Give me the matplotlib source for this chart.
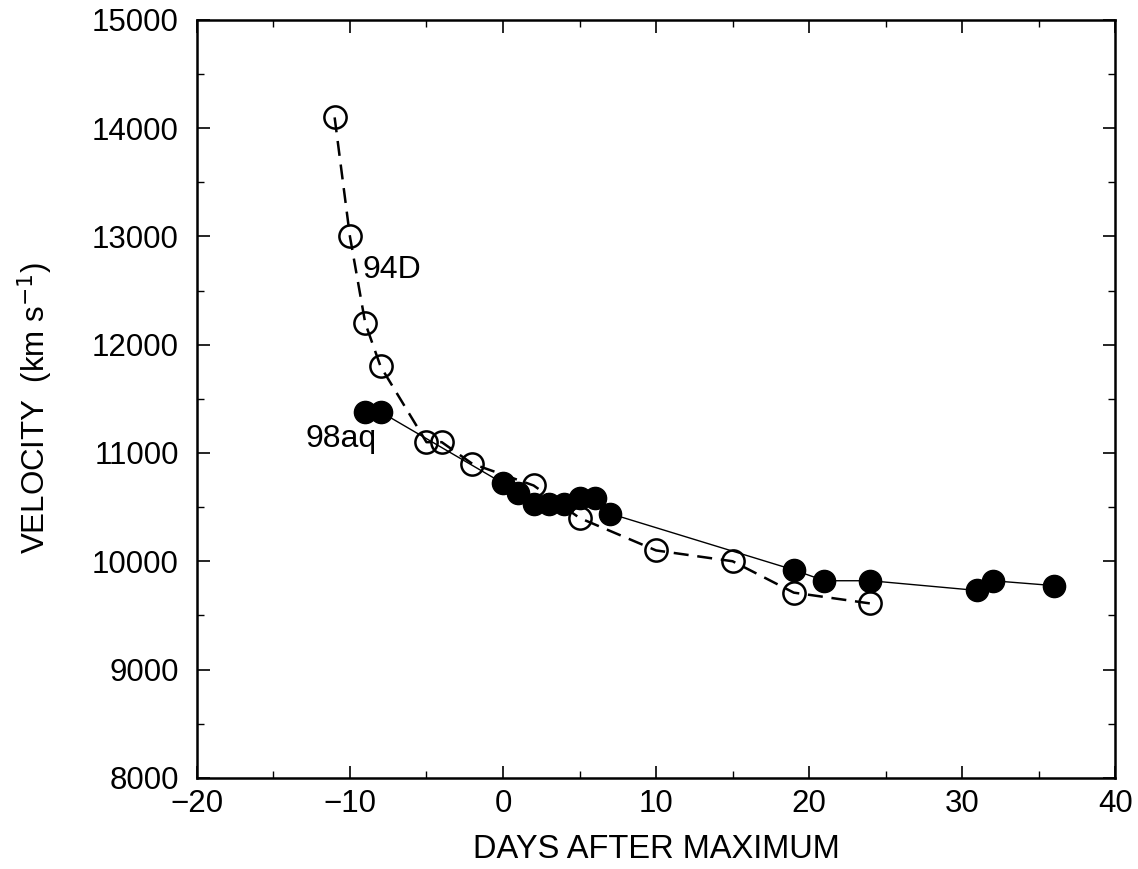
import matplotlib
matplotlib.use("Agg")
import matplotlib.pyplot as plt
from matplotlib.ticker import MultipleLocator

plt.rcParams["font.family"] = ["Liberation Sans", "DejaVu Sans"]

# SN 1994D (open circles, dashed)
days_94d = [-11, -10, -9, -8, -5, -4, -2, 2, 5, 10, 15, 19, 24]
vel_94d = [14100, 13000, 12200, 11800, 11100, 11100, 10900, 10700, 10400,
           10100, 10000, 9710, 9610]

# SN 1998aq (filled circles, solid)
days_98aq = [-9, -8, 0, 1, 2, 3, 4, 5, 6, 7, 19, 21, 24, 31, 32, 36]
vel_98aq = [11380, 11380, 10720, 10630, 10530, 10530, 10530, 10580, 10580,
            10440, 9920, 9820, 9820, 9730, 9820, 9775]

fig = plt.figure(figsize=(11.38, 8.69), dpi=100)
ax = fig.add_axes([0.173, 0.105, 0.807, 0.872])

ax.plot(days_94d, vel_94d, color="black", lw=1.8, ls=(0, (6, 3.5)),
        marker="o", ms=16, mfc="none", mec="black", mew=1.8, zorder=2)
ax.plot(days_98aq, vel_98aq, color="black", lw=1.0, ls="-",
        marker="o", ms=16, mfc="black", mec="black", zorder=3)

ax.text(-9.15, 12690, "94D", fontsize=23, ha="left", va="center")
ax.text(-12.9, 11130, "98aq", fontsize=23, ha="left", va="center")

ax.set_xlim(-20, 40)
ax.set_ylim(8000, 15000)
ax.xaxis.set_major_locator(MultipleLocator(10))
ax.xaxis.set_minor_locator(MultipleLocator(5))
ax.yaxis.set_major_locator(MultipleLocator(1000))
ax.yaxis.set_minor_locator(MultipleLocator(500))
ax.tick_params(which="both", direction="in", top=True, right=True,
               labelsize=22.5)
ax.tick_params(axis="x", which="major", pad=8)
ax.tick_params(axis="y", which="major", pad=13)
ax.tick_params(which="major", length=9, width=1.2)
ax.tick_params(which="minor", length=5, width=1.0)
for s in ax.spines.values():
    s.set_linewidth(1.8)

ax.set_xlabel("DAYS AFTER MAXIMUM", fontsize=23.5, labelpad=11)
ax.set_ylabel("VELOCITY  (km s$^{-1}$)", fontsize=22.5)
ax.yaxis.set_label_coords(-0.154, 0.488)

fig.savefig("out.png", dpi=100)
